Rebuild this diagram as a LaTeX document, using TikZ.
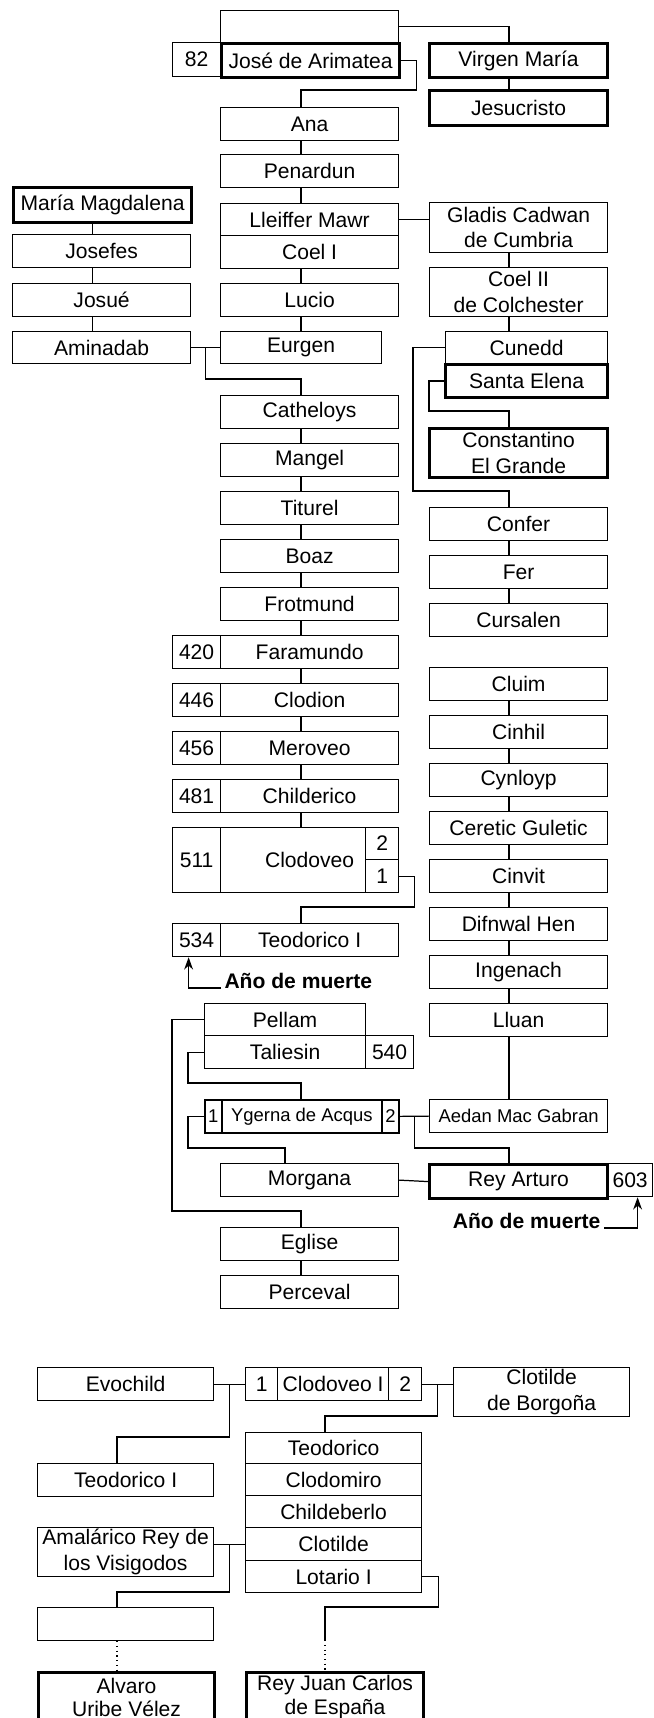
\documentclass[tikz,border=0pt]{standalone}
\usepackage{fontspec}
\setmainfont{Liberation Sans}
\usetikzlibrary{calc,arrows.meta}

\begin{document}
\begin{tikzpicture}[
        x=0.02cm, y=-0.02cm,
        >={Stealth[length=7pt,width=5pt]},
        line width=0.7pt,
        every node/.style={font=\fontsize{12}{14.5}\selectfont},
        pbox/.style={draw, line width=0.7pt, anchor=north west, inner sep=0pt,
            align=center, minimum width=3.56cm, minimum height=0.66cm},
        hbox/.style={pbox, line width=1.8pt},
        nbox/.style={pbox, minimum width=0.96cm},
        small/.style={font=\fontsize{10.5}{12}\selectfont},
        note/.style={inner sep=1.5pt, font=\fontsize{12}{14.5}\selectfont\bfseries}
    ]

        \useasboundingbox (0,0) rectangle (653,1718);

        % Columnas de las lineas
        \coordinate (colL) at (92.5,0);
        \coordinate (colM) at (301,0);
        \coordinate (colR) at (509,0);
        \coordinate (colG) at (285,0);
        \coordinate (colE) at (117,0);
        \coordinate (colS) at (325,0);

        % Jose de Arimatea y Virgen Maria
        \node[pbox, minimum height=0.64cm] (raiz) at (220,10) {};
        \node[nbox, minimum height=0.68cm] (a82) at (172,42) {82};
        \node[hbox, minimum height=0.68cm] (jose) at (220,42) {José de Arimatea};
        \node[hbox, minimum height=0.68cm] (virgen) at (428,42) {Virgen María};
        \node[hbox, minimum height=0.7cm] (jesus) at (428,89) {Jesucristo};

        % Columna central
        \node[pbox] (ana) at (220,107) {Ana};
        \node[pbox] (penardun) at (220,154) {Penardun};
        \node[pbox, minimum height=0.64cm] (lleiffer) at (220,203) {Lleiffer Mawr};
        \node[pbox] (coelI) at (220,235) {Coel I};
        \node[pbox] (lucio) at (220,283) {Lucio};
        \node[pbox, minimum width=3.22cm, minimum height=0.64cm] (eurgen) at (220,331) {Eurgen};
        \node[pbox] (catheloys) at (220,395) {Catheloys};
        \node[pbox] (mangel) at (220,443) {Mangel};
        \node[pbox] (titurel) at (220,491) {Titurel};
        \node[pbox] (boaz) at (220,539) {Boaz};
        \node[pbox] (frotmund) at (220,587) {Frotmund};
        \node[nbox] (a420) at (172,635) {420};
        \node[pbox] (faramundo) at (220,635) {Faramundo};
        \node[nbox] (a446) at (172,683) {446};
        \node[pbox] (clodion) at (220,683) {Clodion};
        \node[nbox] (a456) at (172,731) {456};
        \node[pbox] (meroveo) at (220,731) {Meroveo};
        \node[nbox] (a481) at (172,779) {481};
        \node[pbox] (childerico) at (220,779) {Childerico};
        \node[nbox, minimum height=1.3cm] (a511) at (172,827) {511};
        \node[pbox, minimum height=1.3cm] (clodoveo) at (220,827) {Clodoveo};
        \node[pbox, minimum width=0.66cm, minimum height=0.64cm] (cdos) at (365,827) {2};
        \node[pbox, minimum width=0.66cm] (cuno) at (365,859) {1};
        \node[nbox] (a534) at (172,923) {534};
        \node[pbox] (teodorico) at (220,923) {Teodorico I};

        % Columna izquierda
        \node[hbox, minimum height=0.7cm] (magdalena) at (12,186) {María Magdalena};
        \node[pbox] (josefes) at (12,234) {Josefes};
        \node[pbox] (josue) at (12,283) {Josué};
        \node[pbox, minimum height=0.64cm] (aminadab) at (12,331) {Aminadab};

        % Columna derecha
        \node[pbox, minimum height=1cm] (gladis) at (429,202) {Gladis Cadwan\\de Cumbria};
        \node[pbox, minimum height=0.98cm] (coelII) at (429,267) {Coel II\\de Colchester};
        \node[pbox, minimum width=3.24cm, minimum height=0.64cm] (cunedd) at (445,331) {Cunedd};
        \node[hbox, minimum width=3.24cm] (elena) at (444,363) {Santa Elena};
        \node[hbox, minimum height=0.98cm] (constantino) at (428,427) {Constantino\\El Grande};
        \node[pbox] (confer) at (429,507) {Confer};
        \node[pbox] (fer) at (429,555) {Fer};
        \node[pbox] (cursalen) at (429,603) {Cursalen};
        \node[pbox] (cluim) at (429,667) {Cluim};
        \node[pbox] (cinhil) at (429,715) {Cinhil};
        \node[pbox] (cynloyp) at (429,763) {Cynloyp};
        \node[pbox] (ceretic) at (429,811) {Ceretic Guletic};
        \node[pbox] (cinvit) at (429,859) {Cinvit};
        \node[pbox] (difnwal) at (429,907) {Difnwal Hen};
        \node[pbox] (ingenach) at (429,955) {Ingenach};
        \node[pbox] (lluan) at (429,1003) {Lluan};
        \node[pbox, small] (aedan) at (429,1099) {Aedan Mac Gabran};

        % Rey Arturo
        \node[pbox, minimum width=3.22cm, minimum height=0.64cm] (pellam) at (204,1003) {Pellam};
        \node[pbox, minimum width=3.22cm] (taliesin) at (204,1035) {Taliesin};
        \node[nbox] (a540) at (365,1035) {540};
        \node[pbox, small, line width=1pt, minimum width=0.34cm] (yuno) at (204,1099) {1};
        \node[pbox, small, line width=1pt, minimum width=3.2cm] (ygerna) at (221,1099) {Ygerna de Acqus};
        \node[pbox, small, line width=1pt, minimum width=0.34cm] (ydos) at (381,1099) {2};
        \node[pbox] (morgana) at (220,1163) {Morgana};
        \node[hbox, minimum height=0.68cm] (arturo) at (428,1163) {Rey Arturo};
        \node[nbox, minimum width=0.9cm] (a603) at (607,1163) {603};
        \node[pbox] (eglise) at (220,1227) {Eglise};
        \node[pbox] (perceval) at (220,1275) {Perceval};

        % Lineas verticales
        \draw (virgen.south -| colR) -- (jesus.north -| colR)
              (gladis.south -| colR) -- (coelII.north -| colR)
              (coelII.south -| colR) -- (cunedd.north -| colR)
              (confer.south -| colR) -- (fer.north -| colR)
              (fer.south -| colR) -- (cursalen.north -| colR)
              (cluim.south -| colR) -- (cinhil.north -| colR)
              (cinhil.south -| colR) -- (cynloyp.north -| colR)
              (cynloyp.south -| colR) -- (ceretic.north -| colR)
              (ceretic.south -| colR) -- (cinvit.north -| colR)
              (cinvit.south -| colR) -- (difnwal.north -| colR)
              (difnwal.south -| colR) -- (ingenach.north -| colR)
              (ingenach.south -| colR) -- (lluan.north -| colR)
              (lluan.south -| colR) -- (aedan.north -| colR);

        \draw (ana.south -| colM) -- (penardun.north -| colM)
              (penardun.south -| colM) -- (lleiffer.north -| colM)
              (coelI.south -| colM) -- (lucio.north -| colM)
              (lucio.south -| colM) -- (eurgen.north -| colM)
              (catheloys.south -| colM) -- (mangel.north -| colM)
              (mangel.south -| colM) -- (titurel.north -| colM)
              (titurel.south -| colM) -- (boaz.north -| colM)
              (boaz.south -| colM) -- (frotmund.north -| colM)
              (frotmund.south -| colM) -- (faramundo.north -| colM)
              (faramundo.south -| colM) -- (clodion.north -| colM)
              (clodion.south -| colM) -- (meroveo.north -| colM)
              (meroveo.south -| colM) -- (childerico.north -| colM)
              (childerico.south -| colM) -- (clodoveo.north -| colM)
              (eglise.south -| colM) -- (perceval.north -| colM);

        \draw (magdalena.south -| colL) -- (josefes.north -| colL)
              (josefes.south -| colL) -- (josue.north -| colL)
              (josue.south -| colL) -- (aminadab.north -| colL);

        % Uniones
        \draw (raiz.east) -| (virgen.north -| colR);
        \draw (jose.east) -- ++(15,0) |- ([yshift=0.34cm]ana.north -| colM) -- (ana.north -| colM);
        \draw (lleiffer.east) -- (lleiffer.east -| gladis.west);

        \coordinate (mA) at ($(aminadab.east)!0.5!(eurgen.west)$);
        \draw (aminadab.east) -- (eurgen.west);
        \draw (mA) |- ([yshift=0.32cm]catheloys.north -| colM) -- (catheloys.north -| colM);

        \draw (cunedd.west) -- ++(-32,0) |- ([yshift=0.32cm]confer.north -| colR) -- (confer.north -| colR);
        \draw (elena.west) -- ++(-15,0) |- ([yshift=0.32cm]constantino.north -| colR) -- (constantino.north -| colR);
        \draw (cuno.east) -- ++(15,0) |- ([yshift=0.32cm]teodorico.north -| colM) -- (teodorico.north -| colM);

        \draw (pellam.west) -- ++(-32,0) |- ([yshift=0.32cm]eglise.north -| colM) -- (eglise.north -| colM);
        \draw (taliesin.west) -- ++(-16,0) |- ([yshift=0.32cm]ygerna.north -| colM) -- (ygerna.north -| colM);
        \draw (yuno.west) -- ++(-16,0) |- ([yshift=0.3cm]morgana.north -| colG) -- (morgana.north -| colG);

        \coordinate (mY) at ($(ydos.east)!0.5!(aedan.west)$);
        \draw (ydos.east) -- (aedan.west);
        \draw (mY) |- ([yshift=0.3cm]arturo.north -| colR) -- (arturo.north -| colR);
        \draw (morgana.east) -- (arturo.west);

        % Año de muerte
        \draw[->, line width=1pt] (221,988) node[note, anchor=base west] {Año de muerte}
            -| ([xshift=-0.16cm]a534.south);
        \draw[->, line width=1pt] (604,1228) node[note, anchor=base east] {Año de muerte}
            -| ([xshift=0.15cm]a603.south);

        % Clodoveo I
        \node[pbox, minimum width=3.52cm] (evochild) at (37,1367) {Evochild};
        \node[pbox, minimum width=0.64cm] (kuno) at (245,1367) {1};
        \node[pbox, minimum width=2.22cm] (kclodoveo) at (277,1367) {Clodoveo I};
        \node[pbox, minimum width=0.66cm] (kdos) at (388,1367) {2};
        \node[pbox, minimum width=3.52cm, minimum height=0.98cm] (borgona) at (453,1367) {Clotilde\\de Borgoña};
        \node[pbox, minimum width=3.52cm] (teodoricoI) at (37,1463) {Teodorico I};
        \node[pbox, minimum width=3.52cm, minimum height=0.62cm] (teodoricoh) at (245,1432) {Teodorico};
        \node[pbox, minimum width=3.52cm, minimum height=0.64cm] (clodomiro) at (245,1463) {Clodomiro};
        \node[pbox, minimum width=3.52cm, minimum height=0.64cm] (childeberlo) at (245,1495) {Childeberlo};
        \node[pbox, minimum width=3.52cm] (clotilde) at (245,1527) {Clotilde};
        \node[pbox, minimum width=3.52cm, minimum height=0.64cm] (lotario) at (245,1560) {Lotario I};
        \node[pbox, minimum width=3.52cm, minimum height=0.98cm] (amalarico) at (37,1527) {Amalárico Rey de\\los Visigodos};
        \node[pbox, minimum width=3.52cm] (vacio) at (37,1607) {};
        \node[hbox, minimum width=3.52cm, minimum height=0.98cm,
            font=\fontsize{12}{13.2}\selectfont] (alvaro) at (37,1671) {Alvaro\\Uribe Vélez};
        \node[hbox, minimum width=3.54cm, minimum height=0.98cm,
            font=\fontsize{12}{13.2}\selectfont] (juancarlos) at (245,1671) {Rey Juan Carlos\\de España};

        \coordinate (mE) at ($(evochild.east)!0.5!(kuno.west)$);
        \draw (evochild.east) -- (kuno.west);
        \draw (mE) |- ([yshift=0.52cm]teodoricoI.north -| colE) -- (teodoricoI.north -| colE);

        \coordinate (mK) at ($(kdos.east)!0.5!(kdos.east -| borgona.west)$);
        \draw (kdos.east) -- (kdos.east -| borgona.west);
        \draw (mK) |- ([yshift=0.32cm]teodoricoh.north -| colS) -- (teodoricoh.north -| colS);

        \coordinate (mL) at ($(clotilde.west -| amalarico.east)!0.5!(clotilde.west)$);
        \draw (clotilde.west -| amalarico.east) -- (clotilde.west);
        \draw (mL) |- ([yshift=0.3cm]vacio.north -| colE) -- (vacio.north -| colE);
        \draw[dotted] (vacio.south -| colE) -- (alvaro.north -| colE);

        \draw (lotario.east) -- ++(16,0) |- ([yshift=1.28cm]juancarlos.north -| colS)
            -- ([yshift=0.62cm]juancarlos.north -| colS);
        \draw[dotted] ([yshift=0.62cm]juancarlos.north -| colS) -- (juancarlos.north -| colS);

    \end{tikzpicture}
\end{document}
